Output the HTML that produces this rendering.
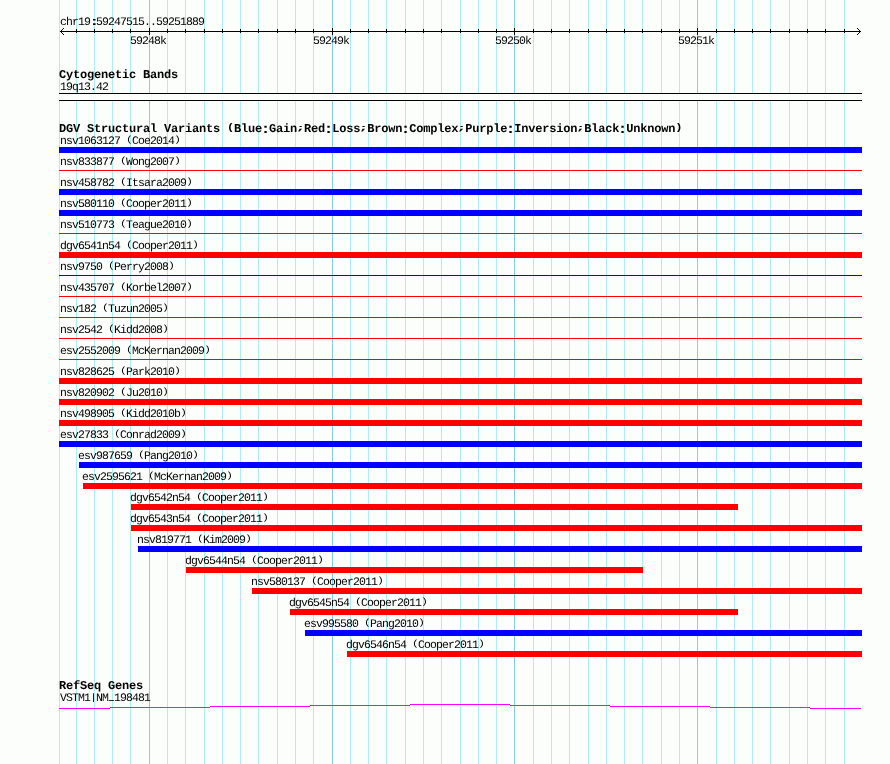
<!DOCTYPE html>
<html><head><meta charset="utf-8"><title>chr19:59247515..59251889</title><style>
html,body{margin:0;padding:0}
body{width:890px;height:764px;overflow:hidden;background:#fcfefc;position:relative}
.g{position:absolute;top:0;width:1px;height:764px;background:#afeeee}
.G{background:#87ceeb}
.r{position:absolute;background:#000}
.t{position:absolute;font-family:"Liberation Mono",monospace;font-size:11.5px;line-height:13px;white-space:pre;color:#000;letter-spacing:-0.9px;transform:scaleY(1.0);transform-origin:0 9px;text-rendering:geometricPrecision;will-change:transform}
.b{font-weight:bold;font-size:12px;letter-spacing:-0.2px;transform:scaleY(1.0);-webkit-text-stroke:0}
.p{display:inline-block;transform:translateY(-1.8px) scaleY(0.78);transform-origin:50% 9.5px}
.u{display:inline-block;transform:translateY(-1.2px) scale(0.75,1.6);transform-origin:50% 10.5px}
.bp{display:inline-block;transform:translateY(-2.1px) scaleY(0.8);transform-origin:50% 9.6px}
.bc{display:inline-block;transform:scale(1.4,1.15);transform-origin:50% 5.5px}
.c{display:inline-block;transform:translateX(0.4px) scaleX(1.9);transform-origin:50% 5.5px}
.v{display:inline-block;transform:translateY(-0.6px) scaleY(0.82);transform-origin:50% 9.5px}
.bs{display:inline-block;transform:scale(1.4,0.65);transform-origin:50% 3px}
</style></head><body>
<div id="grid">
<div class="g" style="left:59px"></div>
<div class="g" style="left:76px"></div>
<div class="g" style="left:94px"></div>
<div class="g" style="left:112px"></div>
<div class="g" style="left:130px"></div>
<div class="g G" style="left:149px"></div>
<div class="g" style="left:167px"></div>
<div class="g" style="left:185px"></div>
<div class="g" style="left:204px"></div>
<div class="g" style="left:222px"></div>
<div class="g" style="left:240px"></div>
<div class="g" style="left:258px"></div>
<div class="g" style="left:277px"></div>
<div class="g" style="left:295px"></div>
<div class="g" style="left:313px"></div>
<div class="g G" style="left:332px"></div>
<div class="g" style="left:350px"></div>
<div class="g" style="left:368px"></div>
<div class="g" style="left:386px"></div>
<div class="g" style="left:405px"></div>
<div class="g" style="left:423px"></div>
<div class="g" style="left:441px"></div>
<div class="g" style="left:460px"></div>
<div class="g" style="left:478px"></div>
<div class="g" style="left:496px"></div>
<div class="g G" style="left:514px"></div>
<div class="g" style="left:533px"></div>
<div class="g" style="left:551px"></div>
<div class="g" style="left:569px"></div>
<div class="g" style="left:588px"></div>
<div class="g" style="left:606px"></div>
<div class="g" style="left:624px"></div>
<div class="g" style="left:642px"></div>
<div class="g" style="left:661px"></div>
<div class="g" style="left:679px"></div>
<div class="g G" style="left:697px"></div>
<div class="g" style="left:716px"></div>
<div class="g" style="left:734px"></div>
<div class="g" style="left:752px"></div>
<div class="g" style="left:770px"></div>
<div class="g" style="left:789px"></div>
<div class="g" style="left:807px"></div>
<div class="g" style="left:825px"></div>
<div class="g" style="left:844px"></div>
</div>
<div class="t" style="left:60px;top:16px">chr19<span class="c">:</span>59247515..59251889</div>
<div class="r" style="left:60px;top:31px;width:801px;height:1px;background:#000"></div>
<div class="r" style="left:61px;top:30px;width:1px;height:1px;background:#000"></div>
<div class="r" style="left:61px;top:32px;width:1px;height:1px;background:#000"></div>
<div class="r" style="left:859px;top:30px;width:1px;height:1px;background:#000"></div>
<div class="r" style="left:859px;top:32px;width:1px;height:1px;background:#000"></div>
<div class="r" style="left:62px;top:29px;width:1px;height:1px;background:#000"></div>
<div class="r" style="left:62px;top:33px;width:1px;height:1px;background:#000"></div>
<div class="r" style="left:858px;top:29px;width:1px;height:1px;background:#000"></div>
<div class="r" style="left:858px;top:33px;width:1px;height:1px;background:#000"></div>
<div class="r" style="left:63px;top:28px;width:1px;height:1px;background:#000"></div>
<div class="r" style="left:63px;top:34px;width:1px;height:1px;background:#000"></div>
<div class="r" style="left:857px;top:28px;width:1px;height:1px;background:#000"></div>
<div class="r" style="left:857px;top:34px;width:1px;height:1px;background:#000"></div>
<div class="r" style="left:76px;top:29px;width:1px;height:4px;background:#000"></div>
<div class="r" style="left:94px;top:29px;width:1px;height:4px;background:#000"></div>
<div class="r" style="left:112px;top:29px;width:1px;height:4px;background:#000"></div>
<div class="r" style="left:130px;top:29px;width:1px;height:4px;background:#000"></div>
<div class="r" style="left:149px;top:28px;width:1px;height:7px;background:#000"></div>
<div class="t" style="left:130px;top:35px">59248k</div>
<div class="r" style="left:167px;top:29px;width:1px;height:4px;background:#000"></div>
<div class="r" style="left:185px;top:29px;width:1px;height:4px;background:#000"></div>
<div class="r" style="left:204px;top:29px;width:1px;height:4px;background:#000"></div>
<div class="r" style="left:222px;top:29px;width:1px;height:4px;background:#000"></div>
<div class="r" style="left:240px;top:29px;width:1px;height:4px;background:#000"></div>
<div class="r" style="left:258px;top:29px;width:1px;height:4px;background:#000"></div>
<div class="r" style="left:277px;top:29px;width:1px;height:4px;background:#000"></div>
<div class="r" style="left:295px;top:29px;width:1px;height:4px;background:#000"></div>
<div class="r" style="left:313px;top:29px;width:1px;height:4px;background:#000"></div>
<div class="r" style="left:332px;top:28px;width:1px;height:7px;background:#000"></div>
<div class="t" style="left:313px;top:35px">59249k</div>
<div class="r" style="left:350px;top:29px;width:1px;height:4px;background:#000"></div>
<div class="r" style="left:368px;top:29px;width:1px;height:4px;background:#000"></div>
<div class="r" style="left:386px;top:29px;width:1px;height:4px;background:#000"></div>
<div class="r" style="left:405px;top:29px;width:1px;height:4px;background:#000"></div>
<div class="r" style="left:423px;top:29px;width:1px;height:4px;background:#000"></div>
<div class="r" style="left:441px;top:29px;width:1px;height:4px;background:#000"></div>
<div class="r" style="left:460px;top:29px;width:1px;height:4px;background:#000"></div>
<div class="r" style="left:478px;top:29px;width:1px;height:4px;background:#000"></div>
<div class="r" style="left:496px;top:29px;width:1px;height:4px;background:#000"></div>
<div class="r" style="left:514px;top:28px;width:1px;height:7px;background:#000"></div>
<div class="t" style="left:495px;top:35px">59250k</div>
<div class="r" style="left:533px;top:29px;width:1px;height:4px;background:#000"></div>
<div class="r" style="left:551px;top:29px;width:1px;height:4px;background:#000"></div>
<div class="r" style="left:569px;top:29px;width:1px;height:4px;background:#000"></div>
<div class="r" style="left:588px;top:29px;width:1px;height:4px;background:#000"></div>
<div class="r" style="left:606px;top:29px;width:1px;height:4px;background:#000"></div>
<div class="r" style="left:624px;top:29px;width:1px;height:4px;background:#000"></div>
<div class="r" style="left:642px;top:29px;width:1px;height:4px;background:#000"></div>
<div class="r" style="left:661px;top:29px;width:1px;height:4px;background:#000"></div>
<div class="r" style="left:679px;top:29px;width:1px;height:4px;background:#000"></div>
<div class="r" style="left:697px;top:28px;width:1px;height:7px;background:#000"></div>
<div class="t" style="left:678px;top:35px">59251k</div>
<div class="r" style="left:716px;top:29px;width:1px;height:4px;background:#000"></div>
<div class="r" style="left:734px;top:29px;width:1px;height:4px;background:#000"></div>
<div class="r" style="left:752px;top:29px;width:1px;height:4px;background:#000"></div>
<div class="r" style="left:770px;top:29px;width:1px;height:4px;background:#000"></div>
<div class="r" style="left:789px;top:29px;width:1px;height:4px;background:#000"></div>
<div class="r" style="left:807px;top:29px;width:1px;height:4px;background:#000"></div>
<div class="r" style="left:825px;top:29px;width:1px;height:4px;background:#000"></div>
<div class="r" style="left:844px;top:29px;width:1px;height:4px;background:#000"></div>
<div class="t b" style="left:59px;top:69px">Cytogenetic Bands</div>
<div class="t" style="left:60px;top:81px">19q13.42</div>
<div class="r" style="left:59px;top:94px;width:803px;height:6px;background:#fcfefc"></div>
<div class="r" style="left:59px;top:93px;width:803px;height:1px;background:#000"></div>
<div class="r" style="left:59px;top:100px;width:803px;height:1px;background:#000"></div>
<div class="t b" style="left:59px;top:123px">DGV Structural Variants <span class="bp">(</span>Blue<span class="bc">:</span>Gain<span class="bs">;</span>Red<span class="bc">:</span>Loss<span class="bs">;</span>Brown<span class="bc">:</span>Complex<span class="bs">;</span>Purple<span class="bc">:</span>Inversion<span class="bs">;</span>Black<span class="bc">:</span>Unknown<span class="bp">)</span></div>
<div class="t" style="left:60px;top:135px">nsv1063127 <span class="p">(</span>Coe2014<span class="p">)</span></div>
<div class="r" style="left:59px;top:147px;width:803px;height:6px;background:#0000ff"></div>
<div class="t" style="left:60px;top:156px">nsv833877 <span class="p">(</span>Wong2007<span class="p">)</span></div>
<div class="r" style="left:59px;top:170px;width:803px;height:1px;background:#ff0000"></div>
<div class="t" style="left:60px;top:177px">nsv458782 <span class="p">(</span>Itsara2009<span class="p">)</span></div>
<div class="r" style="left:59px;top:189px;width:803px;height:6px;background:#0000ff"></div>
<div class="t" style="left:60px;top:198px">nsv580110 <span class="p">(</span>Cooper2011<span class="p">)</span></div>
<div class="r" style="left:59px;top:210px;width:803px;height:6px;background:#0000ff"></div>
<div class="t" style="left:60px;top:219px">nsv510773 <span class="p">(</span>Teague2010<span class="p">)</span></div>
<div class="r" style="left:59px;top:233px;width:803px;height:1px;background:#ff0000"></div>
<div class="t" style="left:60px;top:240px">dgv6541n54 <span class="p">(</span>Cooper2011<span class="p">)</span></div>
<div class="r" style="left:59px;top:252px;width:803px;height:6px;background:#ff0000"></div>
<div class="t" style="left:60px;top:261px">nsv9750 <span class="p">(</span>Perry2008<span class="p">)</span></div>
<div class="r" style="left:59px;top:275px;width:803px;height:1px;background:#0000ff"></div>
<div class="t" style="left:60px;top:282px">nsv435707 <span class="p">(</span>Korbel2007<span class="p">)</span></div>
<div class="r" style="left:59px;top:296px;width:803px;height:1px;background:#ff0000"></div>
<div class="t" style="left:60px;top:303px">nsv182 <span class="p">(</span>Tuzun2005<span class="p">)</span></div>
<div class="r" style="left:59px;top:317px;width:803px;height:1px;background:#ff0000"></div>
<div class="t" style="left:60px;top:324px">nsv2542 <span class="p">(</span>Kidd2008<span class="p">)</span></div>
<div class="r" style="left:59px;top:338px;width:803px;height:1px;background:#ff0000"></div>
<div class="t" style="left:60px;top:345px">esv2552009 <span class="p">(</span>McKernan2009<span class="p">)</span></div>
<div class="r" style="left:59px;top:359px;width:803px;height:1px;background:#ff0000"></div>
<div class="t" style="left:60px;top:366px">nsv828625 <span class="p">(</span>Park2010<span class="p">)</span></div>
<div class="r" style="left:59px;top:378px;width:803px;height:6px;background:#ff0000"></div>
<div class="t" style="left:60px;top:387px">nsv820902 <span class="p">(</span>Ju2010<span class="p">)</span></div>
<div class="r" style="left:59px;top:399px;width:803px;height:6px;background:#ff0000"></div>
<div class="t" style="left:60px;top:408px">nsv498905 <span class="p">(</span>Kidd2010b<span class="p">)</span></div>
<div class="r" style="left:59px;top:420px;width:803px;height:6px;background:#ff0000"></div>
<div class="t" style="left:60px;top:429px">esv27833 <span class="p">(</span>Conrad2009<span class="p">)</span></div>
<div class="r" style="left:59px;top:441px;width:803px;height:6px;background:#0000ff"></div>
<div class="t" style="left:78px;top:450px">esv987659 <span class="p">(</span>Pang2010<span class="p">)</span></div>
<div class="r" style="left:79px;top:462px;width:783px;height:6px;background:#0000ff"></div>
<div class="t" style="left:82px;top:471px">esv2595621 <span class="p">(</span>McKernan2009<span class="p">)</span></div>
<div class="r" style="left:83px;top:483px;width:779px;height:6px;background:#ff0000"></div>
<div class="t" style="left:130px;top:492px">dgv6542n54 <span class="p">(</span>Cooper2011<span class="p">)</span></div>
<div class="r" style="left:131px;top:504px;width:607px;height:6px;background:#ff0000"></div>
<div class="t" style="left:130px;top:513px">dgv6543n54 <span class="p">(</span>Cooper2011<span class="p">)</span></div>
<div class="r" style="left:131px;top:525px;width:731px;height:6px;background:#ff0000"></div>
<div class="t" style="left:137px;top:534px">nsv819771 <span class="p">(</span>Kim2009<span class="p">)</span></div>
<div class="r" style="left:138px;top:546px;width:724px;height:6px;background:#0000ff"></div>
<div class="t" style="left:185px;top:555px">dgv6544n54 <span class="p">(</span>Cooper2011<span class="p">)</span></div>
<div class="r" style="left:186px;top:567px;width:457px;height:6px;background:#ff0000"></div>
<div class="t" style="left:251px;top:576px">nsv580137 <span class="p">(</span>Cooper2011<span class="p">)</span></div>
<div class="r" style="left:252px;top:588px;width:610px;height:6px;background:#ff0000"></div>
<div class="t" style="left:289px;top:597px">dgv6545n54 <span class="p">(</span>Cooper2011<span class="p">)</span></div>
<div class="r" style="left:290px;top:609px;width:448px;height:6px;background:#ff0000"></div>
<div class="t" style="left:304px;top:618px">esv995580 <span class="p">(</span>Pang2010<span class="p">)</span></div>
<div class="r" style="left:305px;top:630px;width:557px;height:6px;background:#0000ff"></div>
<div class="t" style="left:346px;top:639px">dgv6546n54 <span class="p">(</span>Cooper2011<span class="p">)</span></div>
<div class="r" style="left:347px;top:651px;width:515px;height:6px;background:#ff0000"></div>
<div class="t b" style="left:59px;top:680px">RefSeq Genes</div>
<div class="t" style="left:60px;top:692px">VSTM1<span class="v">|</span>NM<span class="u">_</span>198481</div>
<div class="r" style="left:59px;top:708px;width:51px;height:1px;background:#ff00ff"></div>
<div class="r" style="left:110px;top:707px;width:100px;height:1px;background:#ff00ff"></div>
<div class="r" style="left:210px;top:706px;width:100px;height:1px;background:#ff00ff"></div>
<div class="r" style="left:310px;top:705px;width:100px;height:1px;background:#ff00ff"></div>
<div class="r" style="left:410px;top:704px;width:100px;height:1px;background:#ff00ff"></div>
<div class="r" style="left:510px;top:705px;width:100px;height:1px;background:#ff00ff"></div>
<div class="r" style="left:610px;top:706px;width:100px;height:1px;background:#ff00ff"></div>
<div class="r" style="left:710px;top:707px;width:100px;height:1px;background:#ff00ff"></div>
<div class="r" style="left:810px;top:708px;width:51px;height:1px;background:#ff00ff"></div>
</body></html>
